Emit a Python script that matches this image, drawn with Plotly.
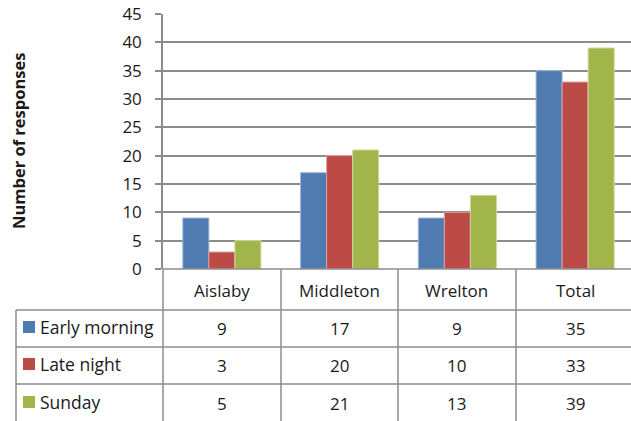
import plotly.graph_objects as go

# chart data
categories = ["Aislaby", "Middleton", "Wrelton", "Total"]
series_names = ["Early morning", "Late night", "Sunday"]
early_morning = [9, 17, 9, 35]
late_night = [3, 20, 10, 33]
sunday = [5, 21, 13, 39]
y_ticks = [0, 5, 10, 15, 20, 25, 30, 35, 40, 45]

W, H = 631, 421
colors = ["#4F7BB1", "#BC4A46", "#A2B54B"]
edges = ["#9DB6D8", "#DDA09E", "#CDD9A0"]
grid_color = "#8C8C8C"
text_color = "#1a1a1a"
font_family = "'Open Sans', sans-serif"


def px(x):
    return x / W


def py(y):
    return 1 - y / H


fig = go.Figure()
for name, vals, c, e in zip(series_names, [early_morning, late_night, sunday], colors, edges):
    fig.add_trace(go.Bar(
        x=categories, y=vals, name=name,
        marker=dict(color=c, line=dict(color=e, width=1)),
    ))

# data table geometry, in pixels
col_edges = [163, 281, 398, 516, 634]
row_edges = [269, 310, 347, 384]
label_left = 16

shapes = []
line = dict(color=grid_color, width=1.5)
# horizontal table lines
shapes.append(dict(type="line", xref="paper", yref="paper",
                   x0=px(col_edges[0]), x1=1, y0=py(row_edges[0]), y1=py(row_edges[0]), line=line))
for r in row_edges[1:]:
    shapes.append(dict(type="line", xref="paper", yref="paper",
                       x0=px(label_left), x1=1, y0=py(r), y1=py(r), line=line))
# vertical table lines
shapes.append(dict(type="line", xref="paper", yref="paper",
                   x0=px(label_left), x1=px(label_left), y0=py(row_edges[1]), y1=0, line=line))
for c in col_edges[:4]:
    shapes.append(dict(type="line", xref="paper", yref="paper",
                       x0=px(c), x1=px(c), y0=py(row_edges[0]), y1=0, line=line))

annotations = []
# header row: category names
for i, cat in enumerate(categories):
    cx = (col_edges[i] + col_edges[i + 1]) / 2
    annotations.append(dict(x=px(cx), y=py(290), xref="paper", yref="paper",
                            text=cat, showarrow=False, xanchor="center", yanchor="middle",
                            font=dict(size=17, color=text_color)))
# data rows with legend keys
row_centers = [327, 364, 402]
for j, (name, vals) in enumerate(zip(series_names, [early_morning, late_night, sunday])):
    cy = row_centers[j]
    shapes.append(dict(type="rect", xref="paper", yref="paper",
                       x0=px(23), x1=px(35), y0=py(cy - 6), y1=py(cy + 6),
                       fillcolor=colors[j], line=dict(width=0)))
    annotations.append(dict(x=px(38), y=py(cy), xref="paper", yref="paper",
                            text=name, showarrow=False, xanchor="left", yanchor="middle",
                            font=dict(size=17.5, color=text_color)))
    for i, v in enumerate(vals):
        cx = (col_edges[i] + col_edges[i + 1]) / 2
        annotations.append(dict(x=px(cx), y=py(cy + 1), xref="paper", yref="paper",
                                text=str(v), showarrow=False,
                                xanchor="center", yanchor="middle",
                                font=dict(size=17, color=text_color)))

# y axis title
annotations.append(dict(x=px(18), y=py(141), xref="paper", yref="paper",
                        text="<b>Number of responses</b>", showarrow=False, textangle=-90,
                        xanchor="center", yanchor="middle",
                        font=dict(size=16.5, color=text_color)))

band = (col_edges[-1] - col_edges[0]) / 4
fig.update_layout(
    width=W, height=H, autosize=False,
    margin=dict(l=0, r=0, t=0, b=0, pad=0),
    paper_bgcolor="white", plot_bgcolor="white",
    font=dict(family=font_family, size=16, color=text_color),
    showlegend=False,
    barmode="group", bargap=0.337, bargroupgap=0,
    xaxis=dict(domain=[px(163), 1], range=[-0.5, -0.5 + (W - 163) / band],
               showticklabels=False, showgrid=False, zeroline=False, showline=False,
               ticks="", automargin=False),
    yaxis=dict(domain=[py(269), py(14)], range=[0, 45], tickvals=y_ticks,
               showgrid=True, gridcolor=grid_color, gridwidth=1.5,
               showline=True, linecolor=grid_color, linewidth=1.5,
               ticks="outside", ticklen=6, tickcolor=grid_color, tickwidth=1.5,
               ticklabelstandoff=10, zeroline=False, automargin=False,
               tickfont=dict(size=17, color=text_color)),
    shapes=shapes, annotations=annotations,
)

# drop the page's default body margin so the figure sits at the window corner
fig.write_html("out.html", config={"displayModeBar": False},
               post_script="document.body.style.margin = '0';")
